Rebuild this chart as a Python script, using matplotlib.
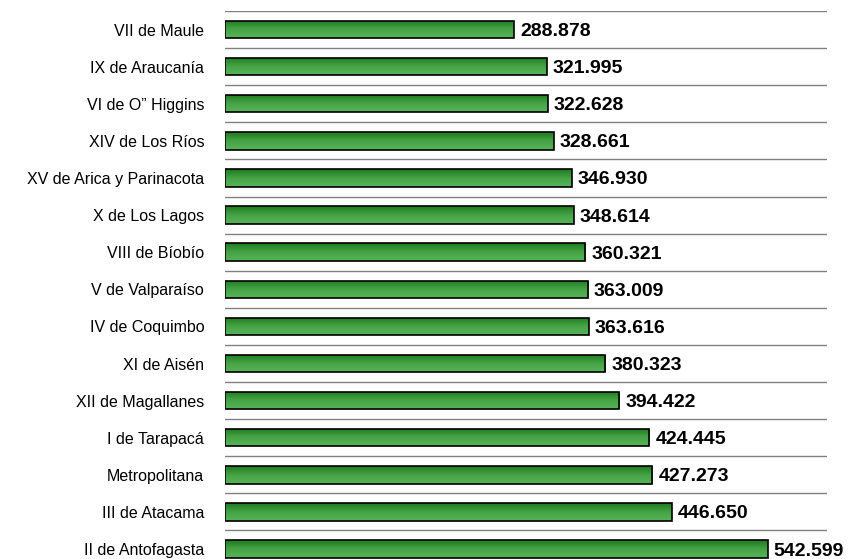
import matplotlib.pyplot as plt
import numpy as np
from matplotlib.colors import LinearSegmentedColormap

regiones = [
    'VII de Maule', 'IX de Araucanía', 'VI de O” Higgins', 'XIV de Los Ríos',
    'XV de Arica y Parinacota', 'X de Los Lagos', 'VIII de Bíobío',
    'V de Valparaíso', 'IV de Coquimbo', 'XI de Aisén', 'XII de Magallanes',
    'I de Tarapacá', 'Metropolitana', 'III de Atacama', 'II de Antofagasta',
]
valores = [
    288.878, 321.995, 322.628, 328.661, 346.930, 348.614, 360.321,
    363.009, 363.616, 380.323, 394.422, 424.445, 427.273, 446.650, 542.599,
]

plt.rcParams['font.family'] = ['Liberation Sans', 'DejaVu Sans']

fig = plt.figure(figsize=(8.53, 5.59), dpi=100)
ax = fig.add_axes([225 / 853, -8.6 / 559, 602 / 853, 556.6 / 559])

y = np.arange(len(regiones))
bars = ax.barh(y, valores, height=0.47, facecolor='none',
               edgecolor='black', linewidth=1.2, zorder=3)

# gradiente verde dentro de cada barra
cmap = LinearSegmentedColormap.from_list('verde', ['#1f7a1f', '#45a345', '#5ab35a'])
grad = np.linspace(0, 1, 64).reshape(-1, 1)
for b in bars:
    x0, y0 = b.get_x(), b.get_y()
    im = ax.imshow(grad, cmap=cmap, aspect='auto', zorder=2,
                   extent=[x0, x0 + b.get_width(), y0 + b.get_height(), y0])
    im.set_clip_path(b)

for yi, v in zip(y, valores):
    ax.text(v + 6, yi, f'{v:.3f}', va='center_baseline', ha='left',
            fontsize=14, fontweight='bold', color='black')

ax.set_xlim(0, 602)
ax.set_ylim(len(regiones) - 0.5, -0.5)
ax.set_yticks(y)
ax.set_yticklabels(regiones, fontsize=11.5)
ax.tick_params(axis='y', length=0, pad=15)
ax.set_xticks([])

for b in np.arange(-0.5, len(regiones) - 0.5, 1):
    ax.axhline(b, color='#808080', linewidth=1, zorder=1)

for s in ax.spines.values():
    s.set_visible(False)

fig.savefig('out.png', dpi=100)
